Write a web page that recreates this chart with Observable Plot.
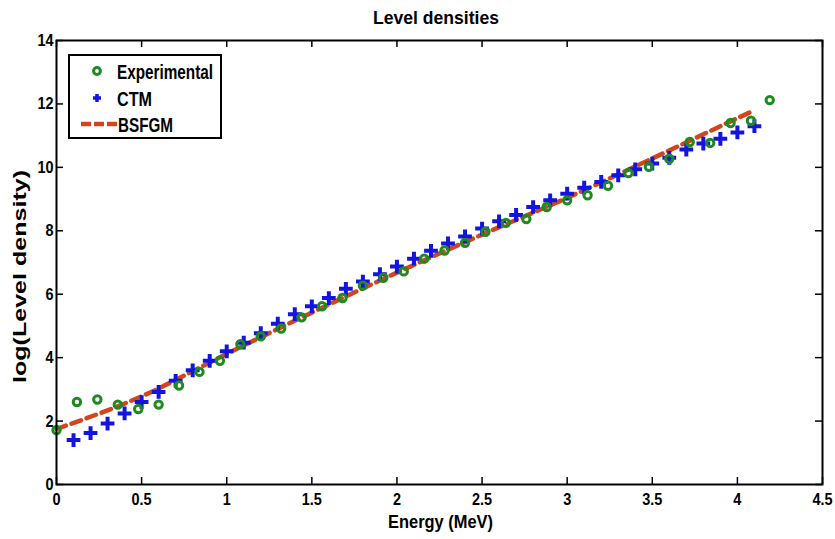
<!DOCTYPE html>
<html><head><meta charset="utf-8">
<script src="https://cdn.jsdelivr.net/npm/d3@7"></script>
<script src="https://cdn.jsdelivr.net/npm/@observablehq/plot@0.6"></script>
<style>
body{margin:0;background:#fff;}
#wrap{position:relative;width:835px;height:539px;}
#legend{position:absolute;left:0;top:0;pointer-events:none;}
</style></head>
<body><div id="wrap"><div id="chart"></div><svg id="legend" width="835" height="539"></svg></div>
<script>
const title = "Level densities";
const xLabel = "Energy (MeV)";
const yLabel = "log(Level density)";
const xTicks = [0,0.5,1,1.5,2,2.5,3,3.5,4,4.5];
const yTicks = [0,2,4,6,8,10,12,14];

const expE = [0,0.12,0.24,0.36,0.48,0.60,0.72,0.84,0.96,1.08,1.20,1.32,1.44,1.56,1.68,1.80,1.92,2.04,2.16,2.28,2.40,2.52,2.64,2.76,2.88,3.00,3.12,3.24,3.36,3.48,3.60,3.72,3.84,3.96,4.08,4.19];
const expLD = [1.72,2.6,2.68,2.52,2.38,2.52,3.12,3.55,3.9,4.42,4.67,4.92,5.27,5.62,5.88,6.27,6.52,6.72,7.12,7.38,7.62,7.97,8.25,8.37,8.75,8.96,9.12,9.42,9.82,10.02,10.27,10.8,10.77,11.4,11.47,12.12];

const ctmE = [0.1,0.2,0.3,0.4,0.5,0.6,0.7,0.8,0.9,1.0,1.1,1.2,1.3,1.4,1.5,1.6,1.7,1.8,1.9,2.0,2.1,2.2,2.3,2.4,2.5,2.6,2.7,2.8,2.9,3.0,3.1,3.2,3.3,3.4,3.5,3.6,3.7,3.8,3.9,4.0,4.1];
const ctmLD = [1.4,1.62,1.92,2.24,2.6,2.92,3.27,3.6,3.9,4.2,4.47,4.77,5.07,5.37,5.62,5.88,6.17,6.4,6.63,6.87,7.12,7.37,7.6,7.82,8.07,8.3,8.5,8.75,8.96,9.17,9.36,9.54,9.75,9.94,10.12,10.3,10.56,10.75,10.9,11.1,11.3];

const bsfgE = [0,0.5,1.0,1.5,2.0,2.5,3.0,3.5,4.0,4.1];
const bsfgLD = [1.75,2.78,4.12,5.42,6.68,7.88,9.04,10.28,11.55,11.8];

const seriesNames = ["Experimental","CTM","BSFGM"];
const colors = {Experimental:"#1f8a1f", CTM:"#1414e0", BSFGM:"#d2461f"};

const exp = expE.map((e,i)=>({e, ld: expLD[i]}));
const ctm = ctmE.map((e,i)=>({e, ld: ctmLD[i]}));
const bsfg = bsfgE.map((e,i)=>({e, ld: bsfgLD[i]}));

const W = 835, H = 539, mL = 56, mR = 13, mT = 40, mB = 55;
const innerH = H - mT - mB, innerW = W - mL - mR;
const font = '"Liberation Sans",Arial,Helvetica,sans-serif';

const chart = Plot.plot({
  width: W, height: H,
  marginLeft: mL, marginRight: mR, marginTop: mT, marginBottom: mB,
  style: {fontFamily: font, fontWeight: "bold", fontSize: "17px", color: "#000", background: "#fff"},
  x: {domain: [0, 4.5]},
  y: {domain: [0, 14]},
  marks: [
    Plot.axisX({ticks: xTicks, tickSize: 0, tickPadding: 8, tickFormat: d => String(d), label: null, fontSize: 17}),
    Plot.axisY({ticks: yTicks, tickSize: 0, tickPadding: 3, tickFormat: d => String(d), label: null, fontSize: 17}),
    Plot.tickX(xTicks, {x: d => d, insetTop: innerH - 7, stroke: "#000", strokeWidth: 1.5}),
    Plot.tickX(xTicks, {x: d => d, insetBottom: innerH - 7, stroke: "#000", strokeWidth: 1.5}),
    Plot.tickY(yTicks, {y: d => d, insetRight: innerW - 7, stroke: "#000", strokeWidth: 1.5}),
    Plot.tickY(yTicks, {y: d => d, insetLeft: innerW - 7, stroke: "#000", strokeWidth: 1.5}),
    Plot.line(bsfg, {x: "e", y: "ld", stroke: colors.BSFGM, strokeWidth: 4.5, strokeDasharray: "10,6", curve: "monotone-x"}),
    Plot.dot(ctm, {x: "e", y: "ld", symbol: "plus", r: 4.5, stroke: colors.CTM, strokeWidth: 4}),
    Plot.dot(exp, {x: "e", y: "ld", r: 3.7, stroke: colors.Experimental, strokeWidth: 3, fill: "none"}),
    Plot.frame({stroke: "#000", strokeWidth: 2})
  ]
});
document.getElementById("chart").appendChild(chart);

function fit(el, len) {
  el.setAttribute("textLength", len);
  el.setAttribute("lengthAdjust", "spacingAndGlyphs");
}
// condense tick labels like the reference's narrow bold font
chart.querySelectorAll('g[aria-label$="tick label"] text').forEach(t => {
  const n = t.getComputedTextLength();
  fit(t, n * 0.85);
});

// overlay: title, axis labels, legend
const ns = "http://www.w3.org/2000/svg";
const lg = document.getElementById("legend");
function el(tag, attrs, text) {
  const e = document.createElementNS(ns, tag);
  for (const k in attrs) e.setAttribute(k, attrs[k]);
  if (text != null) e.textContent = text;
  lg.appendChild(e);
  return e;
}
const tAttrs = {"font-family": font, "font-weight": "bold", fill: "#000"};
fit(el("text", {...tAttrs, x: 373, y: 24, "font-size": 18}, title), 126);
fit(el("text", {...tAttrs, x: 388, y: 528, "font-size": 18}, xLabel), 105);
fit(el("text", {...tAttrs, x: 0, y: 0, "font-size": 19, transform: "translate(26,383) rotate(-90)"}, yLabel), 213);

el("rect", {x: 69, y: 55, width: 152, height: 83, fill: "#fff", stroke: "#000", "stroke-width": 2});
const rowY = [71, 98, 124];
el("circle", {cx: 97, cy: rowY[0], r: 3.4, fill: "none", stroke: colors.Experimental, "stroke-width": 3});
el("path", {d: `M97,${rowY[1]-4}V${rowY[1]+4}M93,${rowY[1]}H101`, stroke: colors.CTM, "stroke-width": 3.5});
el("path", {d: `M81,${rowY[2]}H117`, stroke: colors.BSFGM, "stroke-width": 4.5, "stroke-dasharray": "10,3"});
const lx = [117, 117, 118], lw = [96, 35, 55];
seriesNames.forEach((n, i) => {
  fit(el("text", {...tAttrs, x: lx[i], y: rowY[i] + 7.5, "font-size": 20}, n), lw[i]);
});
</script>
</body></html>
